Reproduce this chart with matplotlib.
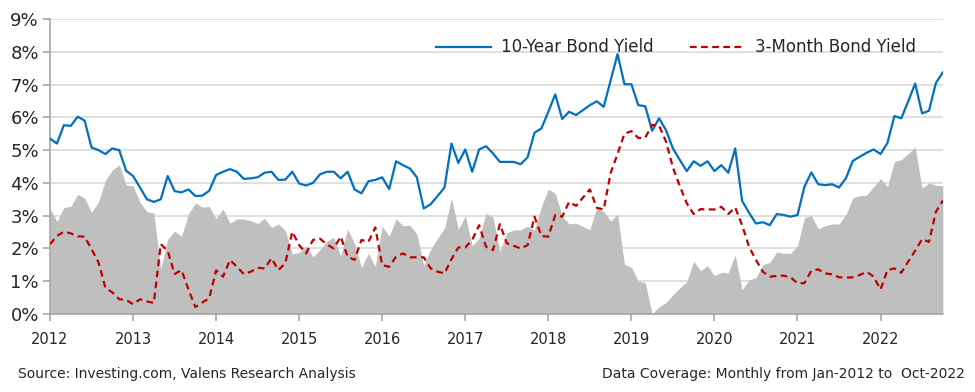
import matplotlib
matplotlib.use('Agg')
import matplotlib.pyplot as plt
from matplotlib import font_manager
import numpy as np

# Data (monthly, Jan-2012 to Oct-2022)
ten_year = [
    5.35, 5.20, 5.76, 5.74, 6.02, 5.90, 5.08, 5.00, 4.88, 5.05, 5.00, 4.37,
    4.21, 3.86, 3.50, 3.42, 3.50, 4.21, 3.75, 3.71, 3.80, 3.60, 3.61, 3.76,
    4.24, 4.34, 4.42, 4.34, 4.12, 4.14, 4.17, 4.31, 4.34, 4.09, 4.10, 4.34,
    3.98, 3.92, 4.00, 4.26, 4.34, 4.34, 4.14, 4.34, 3.80, 3.68, 4.05, 4.09,
    4.17, 3.81, 4.66, 4.54, 4.44, 4.17, 3.22, 3.35, 3.60, 3.86, 5.20, 4.61,
    5.02, 4.34, 5.02, 5.12, 4.90, 4.64, 4.64, 4.64, 4.57, 4.78, 5.53, 5.66,
    6.17, 6.70, 5.95, 6.17, 6.07, 6.22, 6.37, 6.49, 6.32, 7.13, 7.93, 7.01,
    7.01, 6.37, 6.34, 5.59, 5.97, 5.61, 5.05, 4.70, 4.36, 4.66, 4.52, 4.66,
    4.36, 4.54, 4.31, 5.05, 3.45, 3.09, 2.76, 2.80, 2.71, 3.05, 3.02, 2.97,
    3.02, 3.88, 4.32, 3.96, 3.93, 3.96, 3.86, 4.14, 4.67, 4.80, 4.92, 5.02,
    4.88, 5.22, 6.04, 5.97, 6.49, 7.03, 6.12, 6.20, 7.05, 7.37,
]
three_month = [
    2.13, 2.38, 2.51, 2.46, 2.37, 2.36, 1.98, 1.58, 0.80, 0.66, 0.45, 0.43,
    0.30, 0.45, 0.38, 0.34, 2.13, 1.93, 1.22, 1.34, 0.75, 0.21, 0.35, 0.48,
    1.33, 1.14, 1.65, 1.44, 1.22, 1.29, 1.41, 1.39, 1.70, 1.34, 1.55, 2.51,
    2.10, 1.85, 2.26, 2.30, 2.12, 2.00, 2.36, 1.75, 1.65, 2.26, 2.20, 2.64,
    1.49, 1.44, 1.75, 1.85, 1.73, 1.73, 1.73, 1.39, 1.29, 1.24, 1.67, 2.03,
    2.03, 2.26, 2.71, 2.05, 1.95, 2.74, 2.16, 2.08, 2.00, 2.10, 2.97, 2.38,
    2.36, 3.02, 2.97, 3.42, 3.30, 3.55, 3.80, 3.24, 3.19, 4.30, 4.88, 5.50,
    5.58, 5.37, 5.38, 5.77, 5.75, 5.26, 4.47, 3.90, 3.38, 3.05, 3.20, 3.19,
    3.19, 3.27, 3.05, 3.25, 2.71, 2.05, 1.65, 1.29, 1.14, 1.16, 1.17, 1.12,
    0.94, 0.94, 1.32, 1.36, 1.24, 1.21, 1.12, 1.11, 1.12, 1.19, 1.29, 1.14,
    0.75, 1.34, 1.39, 1.26, 1.60, 1.93, 2.28, 2.20, 3.12, 3.46,
]
years = list(range(2012, 2023))
y_ticks = list(range(0, 10))

ten = np.array(ten_year)
three = np.array(three_month)
spread = np.clip(ten - three, 0, None)   # grey area = 10Y minus 3M
t = 2012 + np.arange(len(ten)) / 12

# narrow font for the small labels if one is around
installed = {f.name for f in font_manager.fontManager.ttflist}
narrow = [f for f in ['Liberation Sans Narrow', 'DejaVu Sans Condensed'] if f in installed]
narrow_font = narrow + ['DejaVu Sans']
small_size = 11.5 if narrow else 10

# Plotting
fig = plt.figure(figsize=(9.75, 3.92), dpi=100)
ax = fig.add_axes([0.0513, 0.199, 0.9157, 0.7525])

ax.fill_between(t, 0, spread, color='#BFBFBF', linewidth=0, zorder=1)
ax.plot(t, ten, color='#0070C0', linewidth=1.6, label='10-Year Bond Yield', zorder=3)
ax.plot(t, three, color='#C00000', linewidth=1.6, linestyle=(0, (3, 2)),
        label='3-Month Bond Yield', zorder=3)

# Customization
ax.set_xlim(t[0], t[-1])
ax.set_ylim(0, 9)
ax.set_yticks(y_ticks)
ax.set_yticklabels([f'{v}%' for v in y_ticks], fontsize=13, color='#262626')
ax.set_xticks(years)
ax.set_xticklabels([str(y) for y in years], fontsize=small_size + 0.5, color='#262626',
                   family=narrow_font)
ax.grid(axis='y', color='#D9D9D9', linewidth=1.2, zorder=0)
ax.set_axisbelow(True)
for s in ['top', 'right']:
    ax.spines[s].set_visible(False)
for s in ['left', 'bottom']:
    ax.spines[s].set_color('#A6A6A6')
    ax.spines[s].set_linewidth(1.2)
ax.spines['bottom'].set_zorder(4)
ax.tick_params(axis='both', color='#A6A6A6', length=5, width=1.2)
ax.tick_params(axis='x', pad=8)
ax.tick_params(axis='y', pad=3)

ax.legend(loc='upper right', bbox_to_anchor=(0.987, 0.985), ncol=2, frameon=False,
          fontsize=12, handlelength=3.3, columnspacing=2.2, handletextpad=0.6,
          labelcolor='#262626')

fig.text(0.018, 0.035, 'Source: Investing.com, Valens Research Analysis', fontsize=small_size,
         color='#262626', family=narrow_font)
fig.text(0.99, 0.035, 'Data Coverage: Monthly from Jan-2012 to  Oct-2022', fontsize=small_size,
         color='#262626', ha='right', family=narrow_font)

fig.savefig('out.png', dpi=100)
